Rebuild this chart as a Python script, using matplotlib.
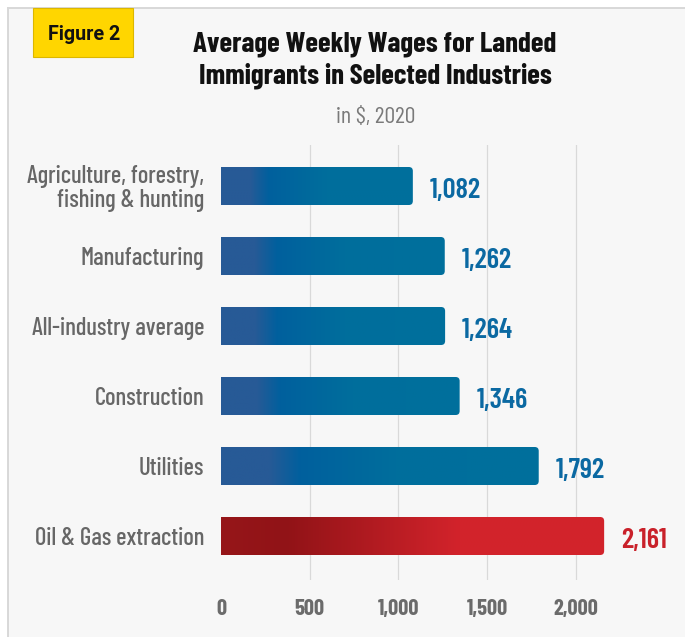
import numpy as np
import matplotlib
matplotlib.use("Agg")
import matplotlib.pyplot as plt
from matplotlib.patches import FancyBboxPatch, Rectangle
from matplotlib.lines import Line2D
from matplotlib.colors import to_rgb

# average weekly wages, landed immigrants, 2020 ($)
industries = ["Agriculture, forestry,\nfishing & hunting", "Manufacturing", "All-industry average",
              "Construction", "Utilities", "Oil & Gas extraction"]
wages = [1082, 1262, 1264, 1346, 1792, 2161]
highlight = "Oil & Gas extraction"
xticks = [0, 500, 1000, 1500, 2000]

W, H = 685, 637
FONT = ["Barlow Condensed", "DejaVu Sans"]

fig = plt.figure(figsize=(W / 100, H / 100), dpi=100, facecolor="white")


def fx(px):
    return px / W


def fy(py):
    return 1 - py / H


# panel background with a thin frame on top and left
fig.patches.append(Rectangle((fx(8), 0), 1 - fx(8), fy(8), transform=fig.transFigure,
                             facecolor="#f7f7f7", edgecolor="none", zorder=-10))
fig.lines.append(Line2D([fx(8), 1], [fy(8), fy(8)], transform=fig.transFigure, color="#d8d8d8", lw=1.4, zorder=-5))
fig.lines.append(Line2D([fx(8), fx(8)], [0, fy(8)], transform=fig.transFigure, color="#d8d8d8", lw=1.4, zorder=-5))

# "Figure 2" tag
fig.patches.append(Rectangle((fx(33), fy(57)), fx(100), fy(8) - fy(57), transform=fig.transFigure,
                             facecolor="#ffd600", edgecolor="#dcb700", lw=0.8, zorder=2))
fig.text(fx(84), fy(40.5), "Figure 2", ha="center", va="baseline", fontsize=14.2,
         family=["Roboto", "DejaVu Sans"], weight="bold", color="#111111", zorder=3)

fig.text(fx(375), fy(51.7), "Average Weekly Wages for Landed", ha="center", va="baseline",
         fontsize=20.8, family=FONT, weight=700, color="#111111")
fig.text(fx(375), fy(83.5), "Immigrants in Selected Industries", ha="center", va="baseline",
         fontsize=20.8, family=FONT, weight=700, color="#111111")
fig.text(fx(375.5), fy(122.7), "in $, 2020", ha="center", va="baseline",
         fontsize=17.2, family=FONT, weight=400, color="#7a7a7a")

# plot area: x=0 at 221px, 0.1773 px per dollar; bar rows 70px apart starting at 186px
x0, x1, ytop, ybot = 221, 670, 145, 580
scale = 0.1773
row, first = 70, 186
ax = fig.add_axes([fx(x0), fy(ybot), fx(x1 - x0), fy(ytop) - fy(ybot)])
ax.set_facecolor("none")
for s in ax.spines.values():
    s.set_visible(False)

for t in xticks[1:]:
    ax.axvline(t, color="#d9d9d9", lw=0.9, zorder=0)

blue_stops = [(0, "#275a96"), (0.15, "#275a96"), (0.25, "#00609e"), (0.55, "#006e9c"), (1, "#00709c")]
red_stops = [(0, "#961619"), (0.17, "#911317"), (0.62, "#d2232b"), (1, "#d3242b")]


def gradient(stops, n=256):
    pos = [p for p, _ in stops]
    cols = np.array([to_rgb(c) for _, c in stops])
    t = np.linspace(0, 1, n)
    return np.stack([np.interp(t, pos, cols[:, k]) for k in range(3)], axis=-1)[None, :, :]


bh = 38 / row
rad = 4 / scale
for i, (name, v) in enumerate(zip(industries, wages)):
    hot = name == highlight
    clip = FancyBboxPatch((-60, i - bh / 2), v + 60, bh,
                          boxstyle=f"round,pad=0,rounding_size={rad}",
                          mutation_aspect=scale / row, transform=ax.transData)
    im = ax.imshow(gradient(red_stops if hot else blue_stops), extent=(0, v, i + bh / 2, i - bh / 2),
                   aspect="auto", interpolation="bilinear", zorder=2)
    im.set_clip_path(clip)
    ax.text(v + 17 / scale, i + 12 / row, f"{v:,}", ha="left", va="baseline",
            fontsize=20.6, family=FONT, weight=600, color="#c9212a" if hot else "#0b69a2")

ax.set_xlim(0, (x1 - x0) / scale)
ax.set_ylim((ybot - first) / row, (ytop - first) / row)

ax.set_xticks(xticks)
ax.set_xticklabels([f"{t:,}" for t in xticks], family=FONT, weight=700, fontsize=16.1, color="#6b6b6b")
for lab in ax.get_xticklabels():
    lab.set_va("baseline")
ax.set_yticks(range(len(industries)))
ax.set_yticklabels(industries, family=FONT, weight=500, fontsize=17.8, color="#676767", linespacing=1.0)
ax.tick_params(axis="x", length=0, pad=35 / 1.389)
ax.tick_params(axis="y", length=0, pad=17 / 1.389)

fig.savefig("out.png", dpi=100, facecolor="white")
